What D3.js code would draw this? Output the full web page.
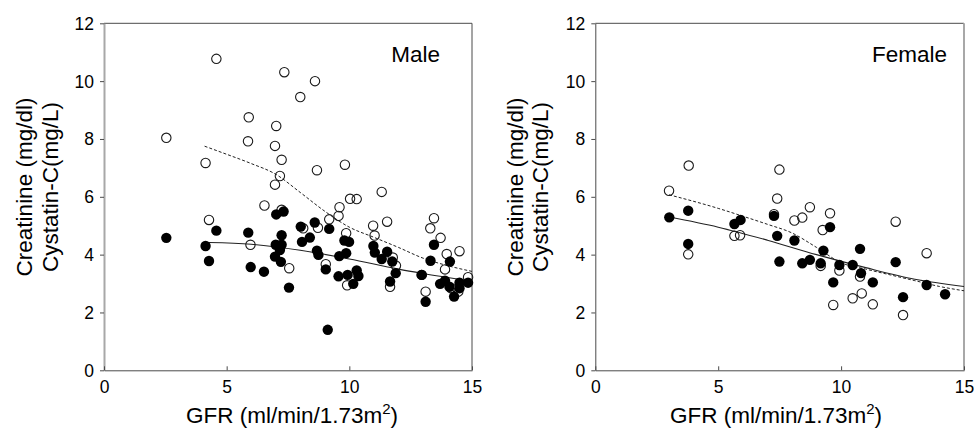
<!DOCTYPE html>
<html><head><meta charset="utf-8">
<script src="https://cdn.jsdelivr.net/npm/d3@7"></script>
<style>
html,body{margin:0;padding:0;background:#fff;}
svg{display:block;font-family:Arial,"Liberation Sans",sans-serif;}
</style></head>
<body><svg id="chart" width="974" height="429"></svg>
<script>
// ---------- DATA ----------
const xTicks = [0, 5, 10, 15];
const yTicks = [0, 2, 4, 6, 8, 10, 12];
const panelTitles = ["Male", "Female"];
const yLabelLine1 = "Creatinine (mg/dl)";
const yLabelLine2 = "Cystatin-C(mg/L)";

// Male, open circles
const maleOpenX = [4.58,7.35,8.6,8.0,5.9,7.02,2.54,5.87,6.97,7.24,4.14,7.17,8.68,9.82,6.97,11.32,10.03,10.3,6.54,7.24,4.28,9.6,9.56,9.18,8.72,8.12,5.97,7.55,9.04,9.91,9.87,10.97,11.03,11.54,11.77,11.66,11.9,13.45,13.3,13.72,13.97,13.9,14.49,13.11,12.95,14.84,14.44,14.15];
const maleOpenY = [10.77,10.31,10.0,9.45,8.75,8.45,8.04,7.92,7.76,7.28,7.17,6.72,6.92,7.11,6.42,6.17,5.93,5.92,5.7,5.55,5.2,5.64,5.34,5.22,4.93,4.91,4.34,3.53,3.67,2.94,4.74,5.0,4.66,5.14,3.9,2.89,3.62,5.26,4.91,4.58,4.02,3.49,4.12,2.72,3.3,3.22,2.72,2.84];
// Male, filled circles
const maleFillX = [2.54,4.58,4.14,4.28,5.88,5.98,6.52,7.02,7.32,7.24,7.0,7.24,7.17,6.97,7.21,7.54,8.02,8.59,8.07,8.39,8.68,8.74,9.18,9.04,9.12,9.56,9.8,9.99,9.87,9.59,9.93,10.3,10.37,10.16,10.98,11.04,11.54,11.32,11.75,11.89,11.66,12.95,13.31,13.45,13.11,14.1,13.7,13.9,14.08,14.27,14.49,14.49,14.84];
const maleFillY = [4.58,4.83,4.3,3.78,4.76,3.57,3.41,5.39,5.49,4.67,4.34,4.34,4.16,3.93,3.75,2.86,4.97,5.11,4.44,4.59,4.14,3.99,4.89,3.49,1.4,3.25,4.49,4.44,4.05,3.95,3.3,3.45,3.26,2.99,4.3,4.07,4.1,3.85,3.76,3.36,3.07,3.3,3.79,4.34,2.37,3.76,2.99,3.1,2.89,2.55,3.03,2.84,3.03];
// Male fitted curves
const maleSolidX = [4.28,6,8,10,12,13,14.84];
const maleSolidY = [4.42,4.36,4.15,3.85,3.5,3.35,3.1];
const maleDashX = [4.1,5,6,7,8,9,10,11,12,13,14,15];
const maleDashY = [7.75,7.47,7.15,6.78,6.15,5.5,4.95,4.6,4.25,3.88,3.62,3.42];

// Female, open circles
const femOpenX = [3.8,3.0,3.78,7.49,7.4,5.66,5.89,7.27,8.73,8.1,8.42,9.55,9.25,9.17,9.93,10.77,10.84,10.47,9.68,11.29,12.22,12.52,13.48];
const femOpenY = [7.08,6.21,4.01,6.94,5.94,4.65,4.67,5.4,5.64,5.18,5.28,5.43,4.85,3.61,3.45,3.24,2.66,2.49,2.26,2.28,5.14,1.91,4.05];
// Female, filled circles
const femFillX = [3.01,3.78,3.78,5.66,5.91,7.27,7.4,7.49,8.1,8.42,8.73,9.17,9.28,9.55,9.68,9.93,10.47,10.77,10.81,11.29,12.22,12.52,13.48,14.23];
const femFillY = [5.29,5.52,4.37,5.06,5.2,5.34,4.65,3.76,4.49,3.7,3.82,3.7,4.14,4.95,3.04,3.64,3.64,4.2,3.36,3.04,3.74,2.53,2.95,2.63];
// Female fitted curves
const femSolidX = [3,5,7,9,11,13,15];
const femSolidY = [5.3,4.95,4.5,4.0,3.55,3.15,2.9];
const femDashX = [3,5,6,7,8,9,10,11,12,13,14,15];
const femDashY = [6.07,5.6,5.33,5.05,4.75,4.25,3.72,3.5,3.3,3.1,2.9,2.75];

// ---------- DRAW ----------
const svg = d3.select("#chart");
const dark = "#4a4a4a", light = "#a8a8a8";
const FONT = "Arial, 'Liberation Sans', sans-serif";

const panels = [
  {x0:104, x1:472, title:panelTitles[0], titleX:440, leftCol:light, rightCol:dark, labX1:32, labX2:57.5, labCX:292,
   openX:maleOpenX, openY:maleOpenY, fillX:maleFillX, fillY:maleFillY,
   solidX:maleSolidX, solidY:maleSolidY, dashX:maleDashX, dashY:maleDashY},
  {x0:595.3, x1:964, title:panelTitles[1], titleX:947, leftCol:dark, rightCol:light, labX1:522.5, labX2:548, labCX:776,
   openX:femOpenX, openY:femOpenY, fillX:femFillX, fillY:femFillY,
   solidX:femSolidX, solidY:femSolidY, dashX:femDashX, dashY:femDashY}
];
const yTop = 23.3, yBot = 370.3;

panels.forEach(p => {
  const x = d3.scaleLinear().domain([0,15]).range([p.x0, p.x1]);
  const y = d3.scaleLinear().domain([0,12]).range([yBot, yTop]);
  const g = svg.append("g");

  // frame: top and right
  g.append("line").attr("x1",p.x0).attr("x2",p.x1).attr("y1",yTop).attr("y2",yTop)
    .attr("stroke",dark).attr("stroke-width",1);
  g.append("line").attr("x1",p.x1).attr("x2",p.x1).attr("y1",yTop).attr("y2",yBot)
    .attr("stroke",p.rightCol).attr("stroke-width",p.rightCol===light?2:1);

  // y axis
  const ya = g.append("g").attr("transform",`translate(${p.x0},0)`)
    .call(d3.axisLeft(y).tickValues(yTicks).tickSize(4).tickSizeOuter(0).tickPadding(6));
  ya.select(".domain").attr("stroke",p.leftCol).attr("stroke-width",p.leftCol===light?2:1);
  ya.selectAll(".tick line").attr("stroke",dark);
  ya.selectAll(".tick text").attr("font-size",17.5).attr("font-family",FONT).attr("fill","#000").attr("dy","0.34em");

  // x axis (ticks inward)
  const xa = g.append("g").attr("transform",`translate(0,${yBot})`)
    .call(d3.axisBottom(x).tickValues(xTicks).tickSize(-4).tickSizeOuter(0).tickPadding(0));
  xa.select(".domain").attr("stroke",dark).attr("stroke-width",1);
  xa.selectAll(".tick line").attr("stroke",dark);
  xa.selectAll(".tick text").attr("font-size",17.5).attr("font-family",FONT).attr("fill","#000")
    .attr("y",23).attr("dy",0);

  // axis labels
  g.append("text").attr("transform",`translate(${p.labX1},187) rotate(-90)`).attr("text-anchor","middle")
    .attr("font-size",22.5).text(yLabelLine1);
  g.append("text").attr("transform",`translate(${p.labX2},187) rotate(-90)`).attr("text-anchor","middle")
    .attr("font-size",22.5).text(yLabelLine2);
  const xl = g.append("text").attr("x",p.labCX).attr("y",423).attr("text-anchor","middle").attr("font-size",22.5);
  xl.append("tspan").text("GFR (ml/min/1.73m");
  xl.append("tspan").attr("font-size",15).attr("dy",-9).text("2");
  xl.append("tspan").attr("dy",9).text(")");

  // title
  g.append("text").attr("x",p.titleX).attr("y",62).attr("text-anchor","end").attr("font-size",22.5).text(p.title);

  // curves
  const line = d3.line().x(d=>x(d[0])).y(d=>y(d[1])).curve(d3.curveMonotoneX);
  g.append("path").datum(d3.zip(p.dashX,p.dashY)).attr("d",line).attr("fill","none")
    .attr("stroke","#222").attr("stroke-width",1).attr("stroke-dasharray","3,2");
  g.append("path").datum(d3.zip(p.solidX,p.solidY)).attr("d",line).attr("fill","none")
    .attr("stroke","#222").attr("stroke-width",1.1);

  // open circles
  g.selectAll(".open").data(d3.zip(p.openX,p.openY)).join("circle")
    .attr("cx",d=>x(d[0])).attr("cy",d=>y(d[1])).attr("r",4.7)
    .attr("fill","none").attr("stroke","#1a1a1a").attr("stroke-width",1.1);
  // filled circles
  g.selectAll(".fill").data(d3.zip(p.fillX,p.fillY)).join("circle")
    .attr("cx",d=>x(d[0])).attr("cy",d=>y(d[1])).attr("r",5.2)
    .attr("fill","#000");
});
</script>
</body></html>
